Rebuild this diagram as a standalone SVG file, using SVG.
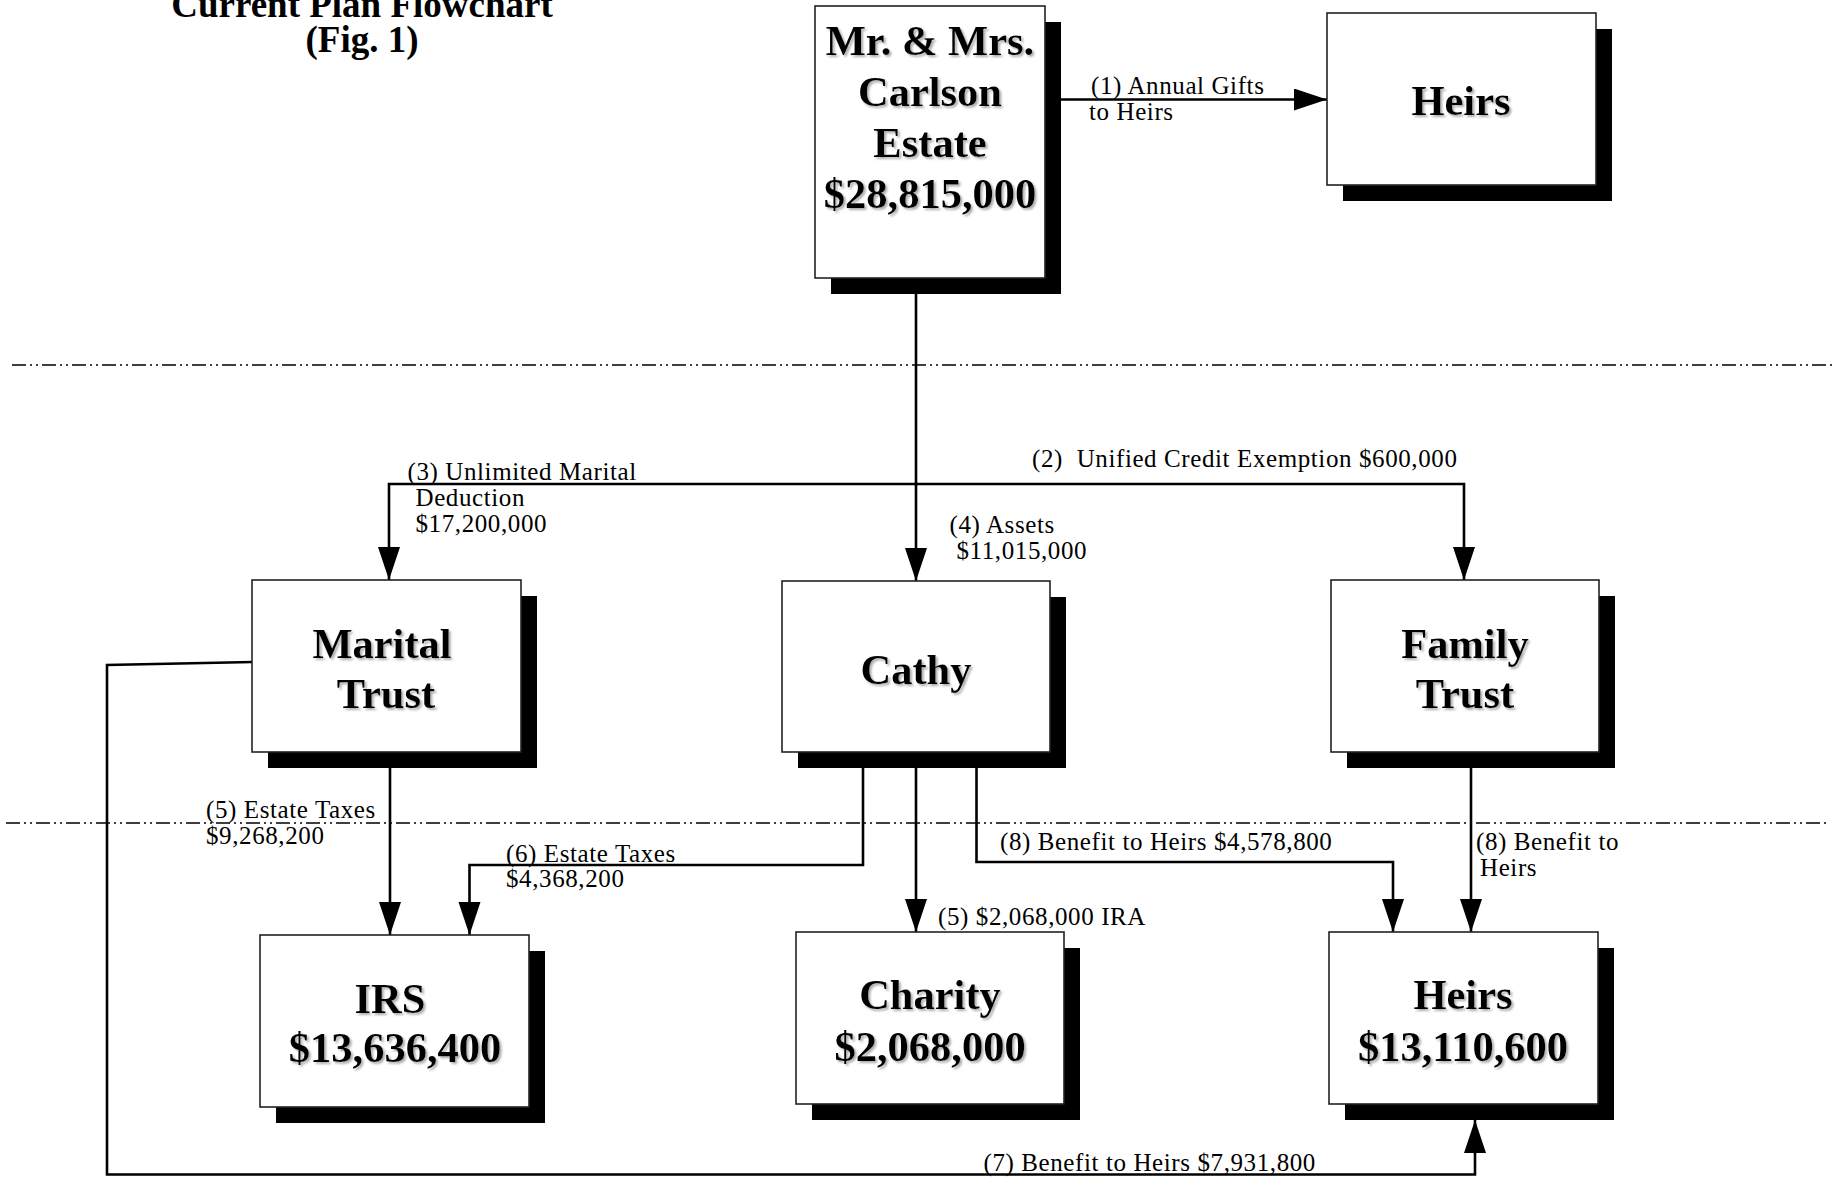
<svg xmlns="http://www.w3.org/2000/svg" width="1836" height="1182" viewBox="0 0 1836 1182">
<style>
  .box { fill: #fff; stroke: #222; stroke-width: 1.6; }
  .shadow { fill: #000; }
  .name { font-family: "Liberation Serif", "Times New Roman", serif; font-weight: bold; font-size: 42.5px; text-anchor: middle; fill: #000; filter: url(#ts); }
  .title { font-family: "Liberation Serif", "Times New Roman", serif; font-weight: bold; font-size: 37px; text-anchor: middle; fill: #000; }
  .lbl { font-family: "Liberation Serif", "Times New Roman", serif; font-size: 25px; letter-spacing: 0.6px; fill: #000; white-space: pre; }
  .con { fill: none; stroke: #000; stroke-width: 2.6; }
  .sep { fill: none; stroke: #000; stroke-width: 1.4; stroke-dasharray: 14 4 2 4 2 4; }
</style>
<defs>
  <filter id="ts" x="-10%" y="-10%" width="130%" height="140%">
    <feDropShadow dx="2" dy="2" stdDeviation="1" flood-color="#999" flood-opacity="0.8"/>
  </filter>
  <marker id="arr" markerUnits="userSpaceOnUse" markerWidth="34" markerHeight="24" refX="33" refY="11" orient="auto">
    <path d="M0,0 L33,11 L0,22 z" fill="#000"/>
  </marker>
</defs>
<rect width="1836" height="1182" fill="#fff"/>

<g id="title">
  <text class="title" x="362" y="17">Current Plan Flowchart</text>
  <text class="title" x="362" y="52">(Fig. 1)</text>
</g>

<g id="separators">
  <line class="sep" x1="12" y1="365" x2="1836" y2="365"/>
  <line class="sep" x1="6" y1="823" x2="1829" y2="823"/>
</g>

<g id="connectors">
  <path class="con" d="M1045,99.5 H1327" marker-end="url(#arr)"/>
  <path class="con" d="M916,278 V581" marker-end="url(#arr)"/>
  <path class="con" d="M916,484 H389 V580" marker-end="url(#arr)"/>
  <path class="con" d="M916,484 H1464 V580" marker-end="url(#arr)"/>
  <path class="con" d="M390,752 V935" marker-end="url(#arr)"/>
  <path class="con" d="M863,752 V865 H469.5 V935" marker-end="url(#arr)"/>
  <path class="con" d="M916,752 V932" marker-end="url(#arr)"/>
  <path class="con" d="M976.5,752 V862 H1393 V932" marker-end="url(#arr)"/>
  <path class="con" d="M1471,752 V932" marker-end="url(#arr)"/>
  <path class="con" d="M253,662 L107,665 V1174.5 H1475 V1120" marker-end="url(#arr)"/>
  <text class="lbl" x="1091" y="94">(1) Annual Gifts</text>
  <text class="lbl" x="1089" y="120">to Heirs</text>
  <text class="lbl" x="1032" y="467">(2)  Unified Credit Exemption $600,000</text>
  <text class="lbl" x="407.5" y="480">(3) Unlimited Marital</text>
  <text class="lbl" x="415.5" y="506">Deduction</text>
  <text class="lbl" x="415.5" y="532">$17,200,000</text>
  <text class="lbl" x="949.5" y="533">(4) Assets</text>
  <text class="lbl" x="956.5" y="559">$11,015,000</text>
  <text class="lbl" x="206" y="818">(5) Estate Taxes</text>
  <text class="lbl" x="206" y="844">$9,268,200</text>
  <text class="lbl" x="506" y="862">(6) Estate Taxes</text>
  <text class="lbl" x="506" y="887">$4,368,200</text>
  <text class="lbl" x="938" y="925">(5) $2,068,000 IRA</text>
  <text class="lbl" x="1000" y="850">(8) Benefit to Heirs $4,578,800</text>
  <text class="lbl" x="1476" y="850">(8) Benefit to</text>
  <text class="lbl" x="1480" y="876">Heirs</text>
  <text class="lbl" x="983.5" y="1171">(7) Benefit to Heirs $7,931,800</text>
</g>

<g id="estate">
  <rect class="shadow" x="831" y="22" width="230" height="272"/>
  <rect class="box" x="815" y="6" width="230" height="272"/>
  <text class="name" x="930" y="55">Mr. &amp; Mrs.</text>
  <text class="name" x="930" y="106">Carlson</text>
  <text class="name" x="930" y="157">Estate</text>
  <text class="name" x="930" y="208">$28,815,000</text>
</g>

<g id="heirs-top">
  <rect class="shadow" x="1343" y="29" width="269" height="172"/>
  <rect class="box" x="1327" y="13" width="269" height="172"/>
  <text class="name" x="1461" y="115">Heirs</text>
</g>

<g id="marital-trust">
  <rect class="shadow" x="268" y="596" width="269" height="172"/>
  <rect class="box" x="252" y="580" width="269" height="172"/>
  <text class="name" x="382" y="658">Marital</text>
  <text class="name" x="386" y="708">Trust</text>
</g>

<g id="cathy">
  <rect class="shadow" x="798" y="597" width="268" height="171"/>
  <rect class="box" x="782" y="581" width="268" height="171"/>
  <text class="name" x="916" y="684">Cathy</text>
</g>

<g id="family-trust">
  <rect class="shadow" x="1347" y="596" width="268" height="172"/>
  <rect class="box" x="1331" y="580" width="268" height="172"/>
  <text class="name" x="1465" y="658">Family</text>
  <text class="name" x="1465" y="708">Trust</text>
</g>

<g id="irs">
  <rect class="shadow" x="276" y="951" width="269" height="172"/>
  <rect class="box" x="260" y="935" width="269" height="172"/>
  <text class="name" x="390" y="1013">IRS</text>
  <text class="name" x="395" y="1062">$13,636,400</text>
</g>

<g id="charity">
  <rect class="shadow" x="812" y="948" width="268" height="172"/>
  <rect class="box" x="796" y="932" width="268" height="172"/>
  <text class="name" x="930" y="1009">Charity</text>
  <text class="name" x="930" y="1061">$2,068,000</text>
</g>

<g id="heirs-bottom">
  <rect class="shadow" x="1345" y="948" width="269" height="172"/>
  <rect class="box" x="1329" y="932" width="269" height="172"/>
  <text class="name" x="1463" y="1009">Heirs</text>
  <text class="name" x="1463" y="1061">$13,110,600</text>
</g>
</svg>
